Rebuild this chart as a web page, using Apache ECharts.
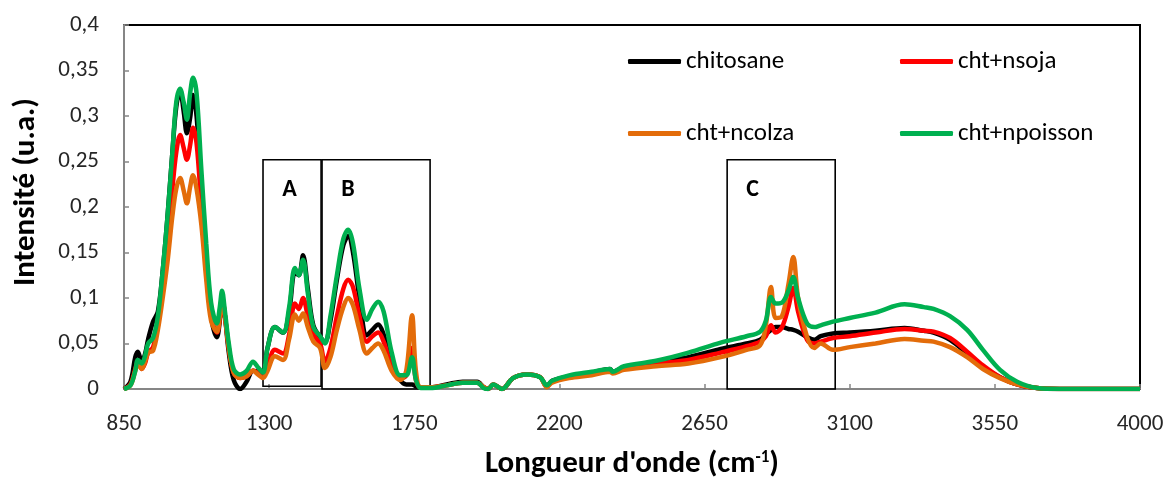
<!DOCTYPE html>
<html>
<head>
<meta charset="utf-8">
<script src="https://cdn.jsdelivr.net/npm/echarts@6/dist/echarts.min.js"></script>
<style>html,body{margin:0;padding:0;background:#fff}#c{width:1173px;height:486px}</style>
</head>
<body>
<div id="c"></div>
<script>
const wavenumber = [850,870,885,893,905,915,925,940,955,970,985,1000,1012,1024,1035,1045,1055,1064,1075,1090,1105,1120,1138,1147,1154,1163,1175,1190,1210,1230,1250,1265,1281,1295,1318,1343,1362,1380,1392,1405,1420,1437,1458,1473,1490,1510,1530,1545,1560,1580,1603,1620,1638,1655,1680,1706,1725,1743,1755,1770,1800,1850,1900,1945,1965,1979,1995,2022,2056,2099,2140,2161,2177,2230,2300,2357,2365,2400,2500,2600,2700,2780,2822,2840,2856,2870,2890,2910,2925,2940,2968,2990,3010,3048,3100,3180,3270,3330,3360,3411,3464,3513,3566,3619,3681,3750,3850,4000];
const chitosane = [0,0.008,0.035,0.041,0.03,0.038,0.055,0.074,0.085,0.13,0.19,0.26,0.31,0.328,0.305,0.281,0.298,0.323,0.3,0.22,0.14,0.08,0.057,0.075,0.102,0.08,0.04,0.01,0,0.008,0.02,0.019,0.018,0.045,0.068,0.062,0.085,0.128,0.125,0.147,0.11,0.07,0.057,0.052,0.075,0.12,0.158,0.168,0.15,0.1,0.059,0.065,0.071,0.06,0.03,0.01,0.005,0.005,0.003,0.002,0.002,0.005,0.008,0.008,0.002,0,0.005,0,0.012,0.016,0.013,0.003,0.009,0.014,0.018,0.022,0.019,0.024,0.03,0.035,0.044,0.05,0.054,0.06,0.065,0.068,0.068,0.066,0.065,0.063,0.057,0.054,0.058,0.061,0.062,0.064,0.067,0.064,0.062,0.054,0.039,0.024,0.013,0.005,0.001,0,0,0];
const nsoja = [0,0.005,0.022,0.03,0.022,0.028,0.04,0.046,0.07,0.11,0.16,0.22,0.26,0.279,0.265,0.252,0.268,0.287,0.27,0.2,0.13,0.08,0.062,0.078,0.1,0.08,0.045,0.018,0.012,0.014,0.02,0.018,0.014,0.025,0.043,0.039,0.06,0.094,0.088,0.1,0.08,0.06,0.05,0.03,0.045,0.08,0.11,0.12,0.112,0.08,0.052,0.058,0.062,0.052,0.025,0.012,0.015,0.045,0.01,0.002,0.002,0.004,0.007,0.007,0.002,0,0.005,0,0.012,0.016,0.013,0.003,0.008,0.013,0.017,0.021,0.018,0.023,0.028,0.032,0.04,0.047,0.052,0.058,0.07,0.062,0.068,0.09,0.111,0.085,0.054,0.05,0.052,0.056,0.058,0.062,0.066,0.064,0.063,0.056,0.041,0.026,0.013,0.005,0.001,0,0,0];
const ncolza = [0,0.004,0.02,0.028,0.022,0.03,0.04,0.042,0.065,0.1,0.14,0.19,0.22,0.232,0.218,0.204,0.222,0.235,0.22,0.18,0.12,0.075,0.063,0.08,0.1,0.08,0.045,0.018,0.012,0.014,0.02,0.016,0.012,0.02,0.036,0.032,0.055,0.082,0.075,0.083,0.068,0.052,0.045,0.023,0.035,0.065,0.09,0.1,0.092,0.065,0.039,0.045,0.05,0.042,0.02,0.01,0.02,0.081,0.02,0.002,0.002,0.004,0.007,0.007,0.002,0,0.005,0,0.012,0.016,0.013,0.002,0.007,0.012,0.015,0.019,0.017,0.021,0.025,0.028,0.035,0.043,0.048,0.07,0.112,0.078,0.08,0.115,0.145,0.1,0.057,0.045,0.05,0.043,0.046,0.05,0.055,0.053,0.052,0.046,0.035,0.022,0.012,0.005,0.001,0,0,0];
const npoisson = [0,0.004,0.02,0.032,0.028,0.036,0.05,0.056,0.08,0.13,0.19,0.26,0.315,0.33,0.315,0.296,0.325,0.342,0.325,0.24,0.16,0.095,0.072,0.09,0.108,0.085,0.05,0.022,0.016,0.02,0.03,0.024,0.018,0.045,0.068,0.062,0.09,0.133,0.125,0.142,0.105,0.068,0.058,0.05,0.08,0.125,0.165,0.175,0.16,0.11,0.076,0.088,0.096,0.085,0.04,0.015,0.015,0.035,0.01,0.001,0.001,0.004,0.007,0.007,0.001,0,0.005,0,0.012,0.016,0.013,0.004,0.009,0.015,0.019,0.022,0.019,0.025,0.031,0.04,0.051,0.058,0.063,0.075,0.101,0.094,0.095,0.108,0.123,0.1,0.072,0.068,0.07,0.074,0.078,0.084,0.093,0.09,0.088,0.08,0.065,0.043,0.021,0.008,0.001,0,0,0];
const seriesNames = ['chitosane','cht+nsoja','cht+ncolza','cht+npoisson'];
const xTickLabels = ['850','1300','1750','2200','2650','3100','3550','4000'];
const yTickLabels = ['0','0,05','0,1','0,15','0,2','0,25','0,3','0,35','0,4'];
const boxNames = ['A','B','C'];
const boxX0 = [1281,1464,2720];
const boxX1 = [1461,1799,3055];
const boxY0 = [0.003,0,0];
const boxY1 = [0.252,0.252,0.252];

const FONT = "Carlito, Lato, 'Open Sans', sans-serif";
const colors = ['#000000','#FF0000','#E36C0A','#00B050'];
const values = [chitosane, nsoja, ncolza, npoisson];

const series = values.map((v, i) => ({
  name: seriesNames[i],
  type: 'line',
  data: wavenumber.map((w, j) => [w, v[j]]),
  showSymbol: false,
  symbol: 'none',
  smooth: 0.35,
  color: colors[i],
  lineStyle: { width: 4.5, color: colors[i] },
  z: 2 + i,
  silent: true
}));
series.push({
  type: 'line', data: [], silent: true, z: 10,
  markArea: {
    silent: true,
    itemStyle: { color: 'rgba(0,0,0,0)', borderColor: '#000', borderWidth: 1.6 },
    label: { show: true, position: [20, 19], color: '#000', fontSize: 24, fontWeight: 'bold', fontFamily: FONT },
    data: boxNames.map((n, i) => [{ name: n, coord: [boxX0[i], boxY1[i]] }, { coord: [boxX1[i], boxY0[i]] }])
  }
});

const legendPos = [[628, 49], [900, 49], [628, 121], [900, 121]];
const legends = seriesNames.map((n, i) => ({
  data: [n], left: legendPos[i][0], top: legendPos[i][1], padding: 0,
  icon: 'roundRect', itemWidth: 53, itemHeight: 5, itemGap: 0,
  textStyle: { fontSize: 25, color: '#000', fontFamily: FONT },
  selectedMode: false
}));

const chart = echarts.init(document.getElementById('c'), null, { renderer: 'canvas' });
chart.setOption({
  animation: false,
  backgroundColor: '#fff',
  legend: legends,
  grid: { left: 124, right: 33, top: 25, bottom: 97, show: true, borderColor: '#000', borderWidth: 2, containLabel: false },
  xAxis: {
    type: 'value', min: 850, max: 4000, interval: 450,
    axisLine: { show: true, lineStyle: { color: '#868686', width: 2 } },
    axisTick: { show: true, inside: true, length: 5, lineStyle: { color: '#868686', width: 1.5 } },
    splitLine: { show: false },
    axisLabel: { margin: 24, fontSize: 23, color: '#262626', fontFamily: FONT, formatter: (v, i) => xTickLabels[i] },
    name: "{b|Longueur d'onde (cm}{s|-1}{b|)}",
    nameLocation: 'middle', nameGap: 60,
    nameTextStyle: { rich: {
      b: { fontSize: 31, fontWeight: 'bold', color: '#000', fontFamily: FONT },
      s: { fontSize: 17, fontWeight: 'bold', color: '#000', fontFamily: FONT, padding: [0,0,14,0] }
    } }
  },
  yAxis: {
    type: 'value', min: 0, max: 0.4, interval: 0.05,
    axisLine: { show: true, lineStyle: { color: '#868686', width: 2 } },
    axisTick: { show: true, inside: true, length: 5, lineStyle: { color: '#868686', width: 1.5 } },
    splitLine: { show: false },
    axisLabel: { margin: 25, fontSize: 23, color: '#262626', fontFamily: FONT, formatter: (v, i) => yTickLabels[i] },
    name: 'Intensité (u.a.)', nameLocation: 'middle', nameGap: 82, nameRotate: 90,
    nameTextStyle: { fontSize: 31, fontWeight: 'bold', color: '#000', fontFamily: FONT, padding: [0,0,0,30] }
  },
  series: series
});
</script>
</body>
</html>
